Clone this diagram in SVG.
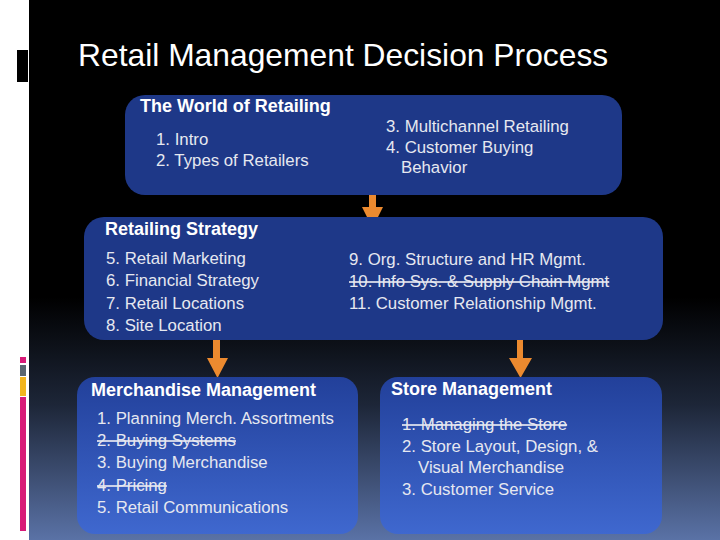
<svg xmlns="http://www.w3.org/2000/svg" width="720" height="540" viewBox="0 0 720 540">
<defs>
<linearGradient id="bg" x1="0" y1="0" x2="0" y2="1">
<stop offset="0" stop-color="#000000"/>
<stop offset="0.55" stop-color="#000000"/>
<stop offset="0.75" stop-color="#1d2638"/>
<stop offset="1" stop-color="#5a72a6"/>
</linearGradient>
<linearGradient id="boxg" x1="0" y1="0" x2="0" y2="1">
<stop offset="0" stop-color="#22409a"/>
<stop offset="1" stop-color="#3f68cf"/>
</linearGradient>
<style>
.t{font-family:"Liberation Sans",Arial,sans-serif;fill:#e6e8f0;font-size:16.8px}
.h{font-family:"Liberation Sans",Arial,sans-serif;fill:#ffffff;font-size:18px;font-weight:bold}
.box{fill:#1e3888}
.gbox{fill:url(#boxg)}
.arrow{fill:#ec8a2f}
.s{text-decoration:line-through}
</style>
</defs>
<rect x="0" y="0" width="720" height="540" fill="#ffffff"/>
<rect x="29" y="0" width="691" height="540" fill="url(#bg)"/>
<rect x="17" y="50" width="11" height="32" fill="#000000"/>
<rect x="20" y="357" width="6" height="6" fill="#d81b78"/>
<rect x="20" y="365" width="6" height="11" fill="#5a6670"/>
<rect x="20" y="377" width="6" height="19" fill="#f2b51e"/>
<rect x="20" y="397" width="6" height="134" fill="#d81b78"/>
<text x="78" y="66" style="font-family:'Liberation Sans',Arial,sans-serif;fill:#ffffff;font-size:31.8px">Retail Management Decision Process</text>

<g id="connectors">
<path class="arrow" d="M369,191 H376 V207 H383 L372.5,228 L362,207 H369 Z"/>
<path class="arrow" d="M213,340 H220 V358 H228 L217.5,378 L207,358 H213 Z"/>
<path class="arrow" d="M517,340 H523 V358 H532 L520.5,378 L509,358 H517 Z"/>
</g>

<g id="world">
<rect class="box" x="125" y="95" width="497" height="100" rx="20"/>
<text class="h" x="140" y="112">The World of Retailing</text>
<text class="t" x="156" y="145">1. Intro</text>
<text class="t" x="156" y="166">2. Types of Retailers</text>
<text class="t" x="386" y="132">3. Multichannel Retailing</text>
<text class="t" x="386" y="153">4. Customer Buying</text>
<text class="t" x="401" y="173">Behavior</text>
</g>

<g id="strategy">
<rect class="box" x="84" y="217" width="579" height="123" rx="20"/>
<text class="h" x="105" y="235">Retailing Strategy</text>
<text class="t" x="106" y="264">5. Retail Marketing</text>
<text class="t" x="106" y="286">6. Financial Strategy</text>
<text class="t" x="106" y="309">7. Retail Locations</text>
<text class="t" x="106" y="331">8. Site Location</text>
<text class="t" x="349" y="265">9. Org. Structure and HR Mgmt.</text>
<text class="t s" x="349" y="287">10. Info Sys. &amp; Supply Chain Mgmt</text>
<text class="t" x="349" y="309">11. Customer Relationship Mgmt.</text>
</g>

<g id="merchandise">
<rect class="gbox" x="77" y="377" width="281" height="157" rx="18"/>
<text class="h" x="91" y="396">Merchandise Management</text>
<text class="t" x="97" y="424">1. Planning Merch. Assortments</text>
<text class="t s" x="97" y="446">2. Buying Systems</text>
<text class="t" x="97" y="468">3. Buying Merchandise</text>
<text class="t s" x="97" y="491">4. Pricing</text>
<text class="t" x="97" y="513">5. Retail Communications</text>
</g>

<g id="store">
<rect class="gbox" x="380" y="377" width="282" height="157" rx="18"/>
<text class="h" x="391" y="395">Store Management</text>
<text class="t s" x="402" y="430">1. Managing the Store</text>
<text class="t" x="402" y="452">2. Store Layout, Design, &amp;</text>
<text class="t" x="418" y="473">Visual Merchandise</text>
<text class="t" x="402" y="495">3. Customer Service</text>
</g>
</svg>
